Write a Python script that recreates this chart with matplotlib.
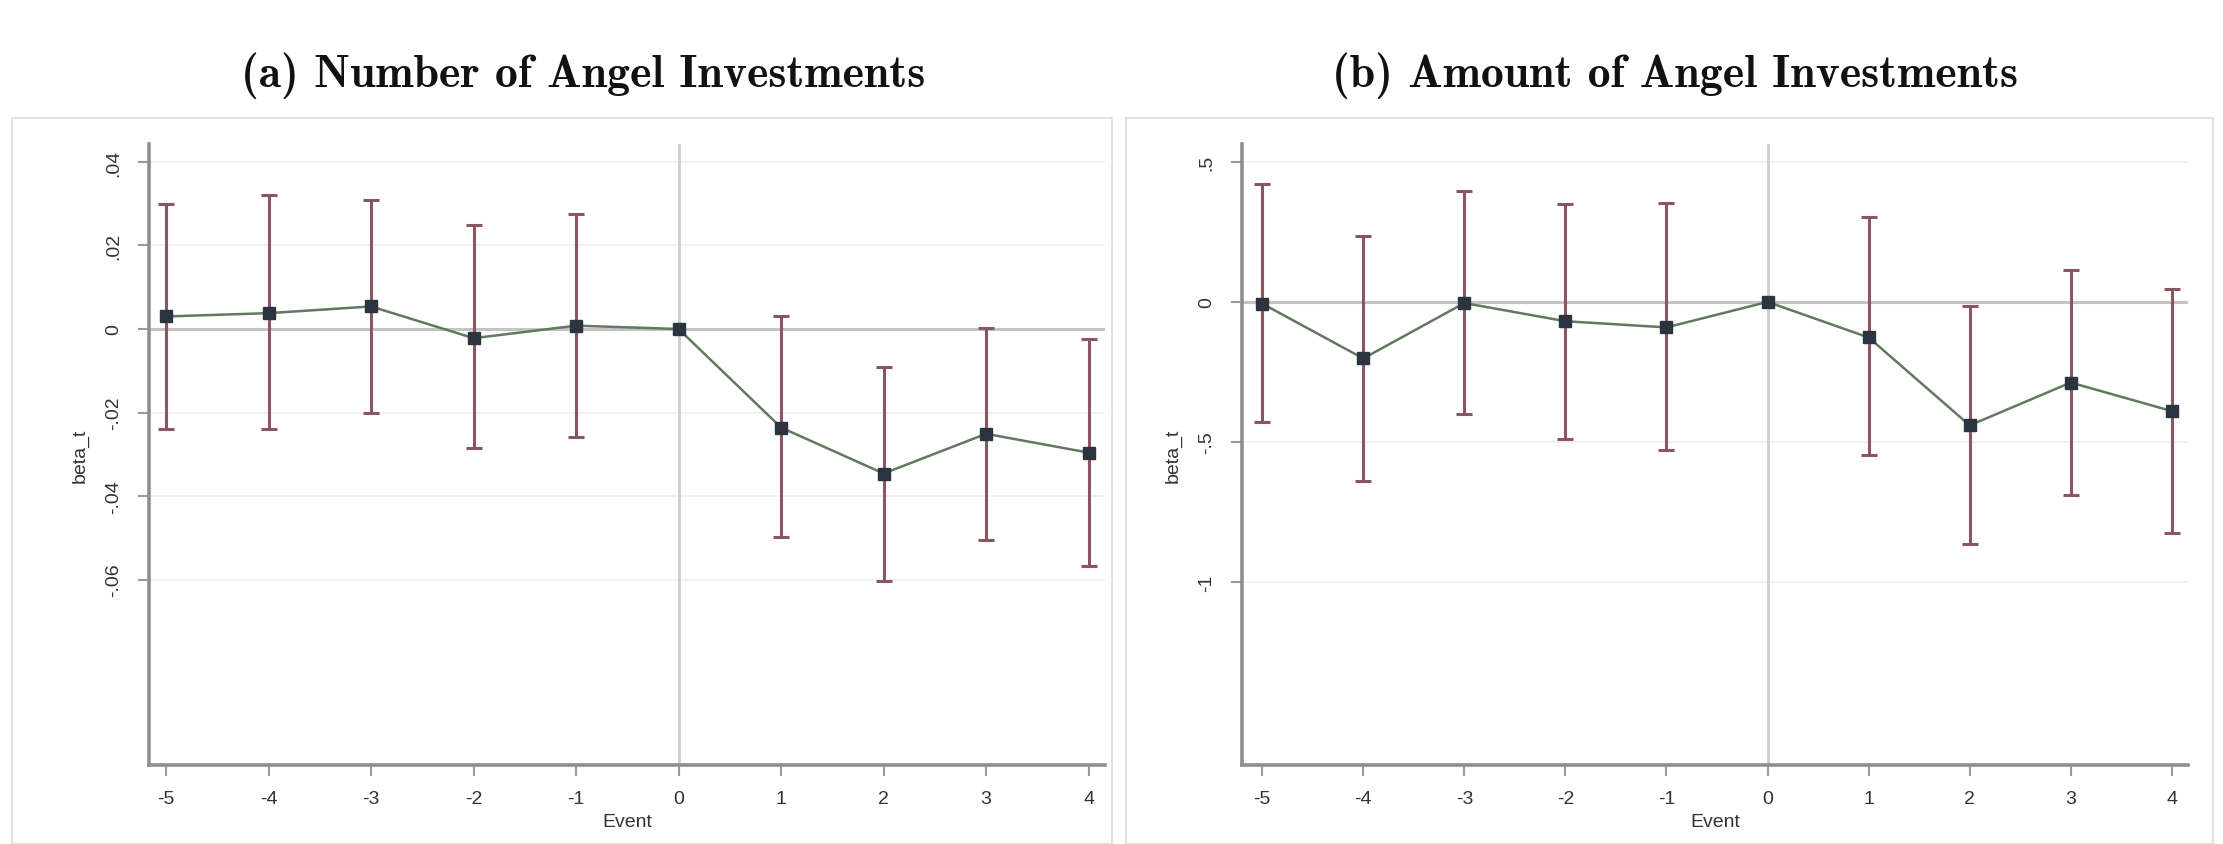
import matplotlib
matplotlib.use("Agg")
import matplotlib.pyplot as plt
import numpy as np
from matplotlib.patches import Rectangle

# event time
events = [-5, -4, -3, -2, -1, 0, 1, 2, 3, 4]

# (a) number of angel investments
num_beta = [0.0030, 0.0038, 0.0054, -0.0022, 0.0008, 0.0, -0.0236, -0.0346, -0.0251, -0.0296]
num_upper = [0.0300, 0.0320, 0.0310, 0.0250, 0.0275, 0.0, 0.0030, -0.0092, 0.0003, -0.0025]
num_lower = [-0.0239, -0.0239, -0.0200, -0.0285, -0.0258, 0.0, -0.0499, -0.0603, -0.0506, -0.0567]

# (b) amount of angel investments
amt_beta = [-0.006, -0.202, -0.004, -0.069, -0.091, 0.0, -0.127, -0.441, -0.288, -0.390]
amt_upper = [0.422, 0.237, 0.397, 0.351, 0.352, 0.0, 0.305, -0.014, 0.115, 0.046]
amt_lower = [-0.429, -0.638, -0.402, -0.489, -0.530, 0.0, -0.546, -0.864, -0.690, -0.825]

num_yticks = [0.04, 0.02, 0.0, -0.02, -0.04, -0.06]
num_ylabels = [".04", ".02", "0", "-.02", "-.04", "-.06"]
amt_yticks = [0.5, 0.0, -0.5, -1.0]
amt_ylabels = [".5", "0", "-.5", "-1"]

titles = ["(a) Number of Angel Investments", "(b) Amount of Angel Investments"]

W, H = 2223, 845
fig = plt.figure(figsize=(W / 100, H / 100), dpi=100)
fig.patch.set_facecolor("white")


def px_rect(x0, y0, x1, y1):
    return [x0 / W, 1 - y1 / H, (x1 - x0) / W, (y1 - y0) / H]


# light panel frames
for x0, x1 in [(12, 1112), (1126, 2213)]:
    fig.patches.append(Rectangle((x0 / W, 0.0), (x1 - x0) / W, 1 - 119 / H,
                                 transform=fig.transFigure, fill=False,
                                 edgecolor="#e2e2e2", linewidth=1.5))

ax_a = fig.add_axes(px_rect(149, 145, 1105, 766))
ax_b = fig.add_axes(px_rect(1242, 145, 2188, 766))

panels = [
    (ax_a, num_beta, num_lower, num_upper, num_yticks, num_ylabels, (-5.167, 4.16), (-0.1044, 0.0443)),
    (ax_b, amt_beta, amt_lower, amt_upper, amt_yticks, amt_ylabels, (-5.2, 4.16), (-1.654, 0.564)),
]

x = np.array(events)
for ax, beta, lower, upper, yticks, ylabels, xlim, ylim in panels:
    beta = np.array(beta)
    lower = np.array(lower)
    upper = np.array(upper)

    for yt in yticks:
        ax.axhline(yt, color="#f1f1f1", linewidth=1.5, zorder=0)
    ax.axhline(0, color="#c4c4c4", linewidth=2.2, zorder=1)
    ax.axvline(0, color="#cdcdcd", linewidth=2.0, zorder=1)

    has_ci = upper != lower
    ax.errorbar(x[has_ci], beta[has_ci],
                yerr=[beta[has_ci] - lower[has_ci], upper[has_ci] - beta[has_ci]],
                fmt="none", ecolor="#8a5761", elinewidth=2.2, capsize=6, capthick=2.2, zorder=2)
    ax.plot(x, beta, color="#62785f", linewidth=1.8, zorder=3)
    ax.plot(x, beta, linestyle="none", marker="s", markersize=9, color="#2b3440", zorder=4)

    ax.set_xlim(*xlim)
    ax.set_ylim(*ylim)
    ax.set_xticks(events)
    ax.set_xticklabels([str(e) for e in events])
    ax.set_yticks(yticks)
    ax.set_yticklabels(ylabels, rotation=90, va="center")

    for side in ["top", "right"]:
        ax.spines[side].set_visible(False)
    for side in ["left", "bottom"]:
        ax.spines[side].set_color("#8f8f8f")
        ax.spines[side].set_linewidth(2.6)
    ax.tick_params(axis="both", direction="out", length=8, width=1.5, color="#9a9a9a",
                   labelsize=14, labelcolor="#333333")
    ax.tick_params(axis="x", pad=10)
    ax.tick_params(axis="y", pad=11)
    for lbl in ax.get_xticklabels() + ax.get_yticklabels():
        lbl.set_fontfamily("Liberation Sans")

    ax.set_xlabel("Event", fontsize=14, color="#333333", family="Liberation Sans", labelpad=4)
    ax.set_ylabel("beta_t", fontsize=14, color="#333333", family="Liberation Sans", labelpad=12)
    ax.set_facecolor("none")

for title, cx in zip(titles, [583 / W, 1675 / W]):
    fig.text(cx, 1 - 76 / H, title, ha="center", va="center", fontsize=33,
             family=["cmb10", "DejaVu Serif"], color="#111111")

fig.savefig("out.png", dpi=100)
